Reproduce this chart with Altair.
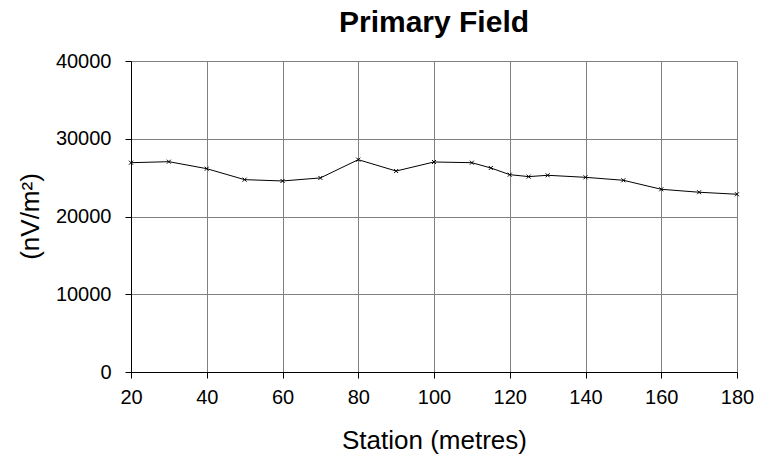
import altair as alt
import pandas as pd

stations = [20, 30, 40, 50, 60, 70, 80, 90, 100, 110, 115, 120, 125, 130, 140, 150, 160, 170, 180]
field = [26920, 27050, 26150, 24740, 24570, 24960, 27310, 25850, 27010, 26920, 26240, 25380,
         25130, 25300, 25040, 24660, 23500, 23120, 22860]

x_ticks = [20, 40, 60, 80, 100, 120, 140, 160, 180]
y_ticks = [0, 10000, 20000, 30000, 40000]

df = pd.DataFrame({"station": stations, "field": field})

FONT = "Liberation Sans"

x_enc = alt.X("station:Q", scale=alt.Scale(domain=[20, 180], nice=False, zero=False),
              axis=alt.Axis(values=x_ticks, title="Station (metres)", grid=True,
                            gridColor="#808080", gridOpacity=1, gridWidth=1,
                            domainColor="#000000", tickColor="#000000", tickSize=6,
                            labelFontSize=20, titleFontSize=26, labelFont=FONT, titleFont=FONT,
                            labelColor="#000000", titleColor="#000000", titleFontWeight="normal",
                            labelBaseline="alphabetic", labelPadding=25, labelFlush=False,
                            titleBaseline="alphabetic", titleY=76, titleX=303, titleAnchor="middle"))
y_enc = alt.Y("field:Q", scale=alt.Scale(domain=[0, 40000], nice=False),
              axis=alt.Axis(values=y_ticks, title="(nV/m²)", grid=True, format="d",
                            gridColor="#808080", gridOpacity=1, gridWidth=1,
                            domainColor="#000000", tickColor="#000000", tickSize=6,
                            labelFontSize=20, titleFontSize=26, labelFont=FONT, titleFont=FONT,
                            labelColor="#000000", titleColor="#000000", titleFontWeight="normal",
                            labelPadding=14, titleAngle=-90, titleBaseline="middle",
                            titleAlign="center", titleX=-101, titleY=155))

line = alt.Chart(df).mark_line(color="#000000", strokeWidth=1).encode(x=x_enc, y=y_enc)
pts = alt.Chart(df).mark_point(shape="M-1,-1L1,1M-1,1L1,-1", size=16, filled=False,
                               color="#000000", strokeWidth=1, opacity=1).encode(x="station:Q", y="field:Q")

chart = (line + pts).properties(
    width=606, height=311,
    title=alt.TitleParams("Primary Field", font=FONT, fontSize=30, fontWeight="bold",
                          color="#000000", anchor="middle", offset=13),
    autosize=alt.AutoSizeParams(type="none"),
    padding={"left": 131, "top": 61, "right": 21, "bottom": 84},
).configure_view(stroke=None).configure(background="#ffffff")

chart.save("out.html", embed_options={"renderer": "svg", "actions": False})
